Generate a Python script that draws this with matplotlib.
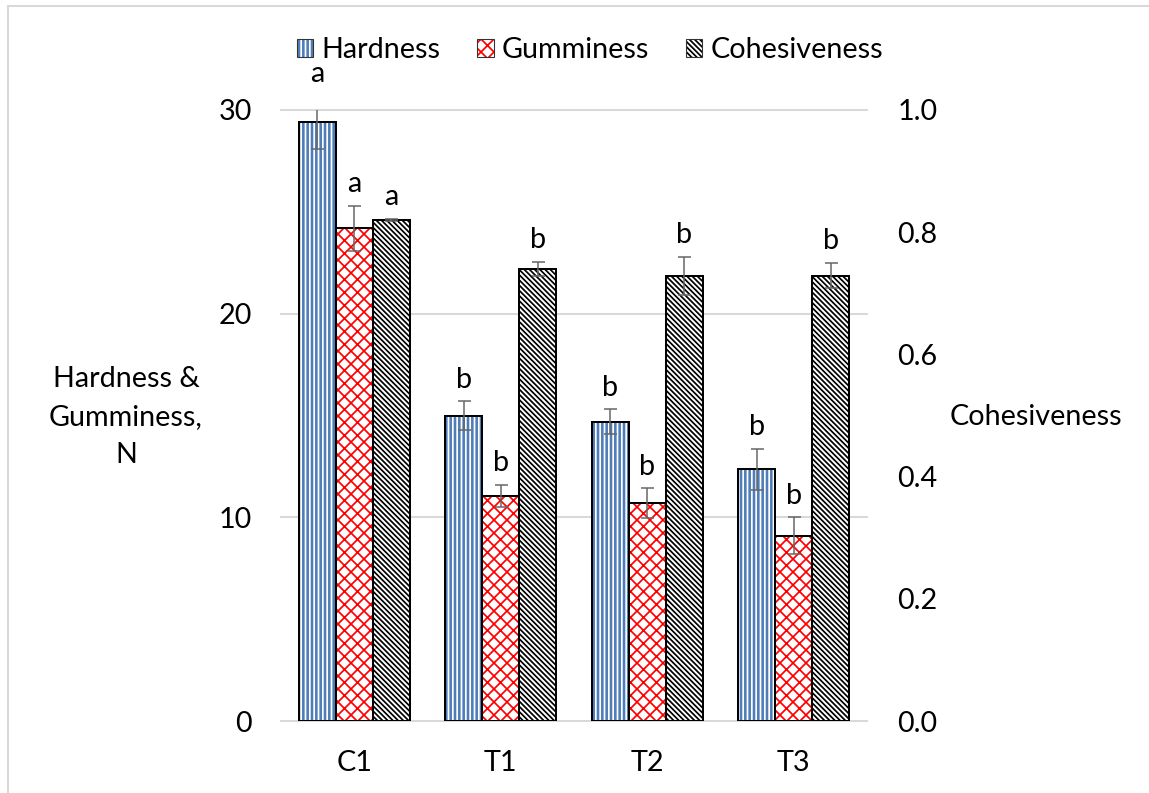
import numpy as np
import matplotlib
matplotlib.use("Agg")
from matplotlib import pyplot as plt
from matplotlib.patches import Patch
from matplotlib.lines import Line2D
from matplotlib.legend_handler import HandlerTuple

plt.rcParams['font.family'] = ['Lato', 'DejaVu Sans']
plt.rcParams['hatch.linewidth'] = 1.6

# ---------------- data ----------------
groups = ["C1", "T1", "T2", "T3"]
hardness = [29.4, 15.0, 14.7, 12.35]
hardness_err = [1.3, 0.7, 0.6, 1.0]
gumminess = [24.2, 11.05, 10.7, 9.1]
gumminess_err = [1.1, 0.55, 0.73, 0.9]
cohesiveness = [0.82, 0.74, 0.729, 0.729]
cohesiveness_err = [0.002, 0.011, 0.031, 0.021]
hardness_letters = ["a", "b", "b", "b"]
gumminess_letters = ["a", "b", "b", "b"]
cohesiveness_letters = ["a", "b", "b", "b"]

# ---------------- style ----------------
DPI = 78
W, H = 1149, 793
fs = 26.5
blue = "#4F7DB8"
red = "#FF0000"
err_col = "#666666"
grid_col = "#D9D9D9"
bar_lw = 1.85
bw = 0.2526
hatch_h = "|||"
hatch_g = "xx"
hatch_c = "\\" * 5

fig = plt.figure(figsize=(W / DPI, H / DPI), dpi=DPI)
ax = fig.add_axes([281 / W, 1 - 721 / H, (867 - 281) / W, (721 - 110) / H])
ax2 = ax.twinx()

x = np.arange(len(groups))

def draw_bars(axis, xpos, vals, errs, face, hatch, hatch_col):
    axis.bar(xpos, vals, bw, color=face, edgecolor=hatch_col, hatch=hatch,
             linewidth=0, zorder=2)
    axis.bar(xpos, vals, bw, fill=False, edgecolor="black", linewidth=bar_lw, zorder=3)
    axis.errorbar(xpos, vals, yerr=errs, fmt="none", ecolor=err_col, elinewidth=1.4,
                  capsize=6, capthick=1.4, zorder=4)

draw_bars(ax, x - bw, hardness, hardness_err, blue, hatch_h, "white")
draw_bars(ax, x, gumminess, gumminess_err, "white", hatch_g, red)
draw_bars(ax2, x + bw, cohesiveness, cohesiveness_err, "white", hatch_c, "black")

# significance letters
def letters(axis, xpos, vals, errs, labs):
    for xi, v, e, t in zip(xpos, vals, errs, labs):
        axis.annotate(t, (xi, v + e), xytext=(0, 20), textcoords="offset points",
                      ha="center", va="center", fontsize=fs, annotation_clip=False)

letters(ax, x - bw, hardness, hardness_err, hardness_letters)
letters(ax, x, gumminess, gumminess_err, gumminess_letters)
letters(ax2, x + bw, cohesiveness, cohesiveness_err, cohesiveness_letters)

ax.set_xlim(-0.5, len(groups) - 0.5)
ax.set_ylim(0, 30)
ax2.set_ylim(0, 1.0)
ax.set_yticks([0, 10, 20, 30])
ax2.set_yticks(np.arange(0, 1.01, 0.2))
ax2.set_yticklabels([f"{v:.1f}" for v in np.arange(0, 1.01, 0.2)])
ax.set_xticks(x)
ax.set_xticklabels(groups)

for a in (ax, ax2):
    for s in a.spines.values():
        s.set_visible(False)
ax.tick_params(axis="y", length=0, labelsize=fs, pad=27)
ax.tick_params(axis="x", length=0, labelsize=fs, pad=27)
ax2.tick_params(axis="y", length=0, labelsize=fs, pad=28)

ax.set_axisbelow(True)
ax.yaxis.grid(True, color=grid_col, linewidth=1.85)
for gl in ax.get_ygridlines():
    gl.set_clip_on(False)

fig.text(126 / W, 1 - 417 / H, "Hardness &\nGumminess,\nN", ha="center", va="center",
         fontsize=fs, linespacing=1.55)
fig.text(1036 / W, 1 - 417 / H, "Cohesiveness", ha="center", va="center", fontsize=fs)

# legend
def handle(face, hatch, hatch_col):
    return (Patch(facecolor=face, edgecolor=hatch_col, hatch=hatch, linewidth=0),
            Patch(fill=False, edgecolor="#333333", linewidth=1.0))

handles = [handle(blue, hatch_h, "white"), handle("white", hatch_g, red),
           handle("white", hatch_c, "black")]
fig.legend(handles, ["Hardness", "Gumminess", "Cohesiveness"], ncol=3,
           loc="center", bbox_to_anchor=(590 / W, 1 - 50 / H), frameon=False,
           fontsize=fs, handlelength=0.56, handleheight=0.56, handletextpad=0.28,
           columnspacing=1.3, borderpad=0.2,
           handler_map={tuple: HandlerTuple(ndivide=1)})

# chart border
fig.add_artist(Line2D([8 / W, 8 / W], [-0.05, 1 - 6 / H], transform=fig.transFigure,
                      color=grid_col, linewidth=1.85))
fig.add_artist(Line2D([8 / W, 1.05], [1 - 6 / H, 1 - 6 / H], transform=fig.transFigure,
                      color=grid_col, linewidth=1.85))

fig.savefig("out.png", dpi=DPI)
